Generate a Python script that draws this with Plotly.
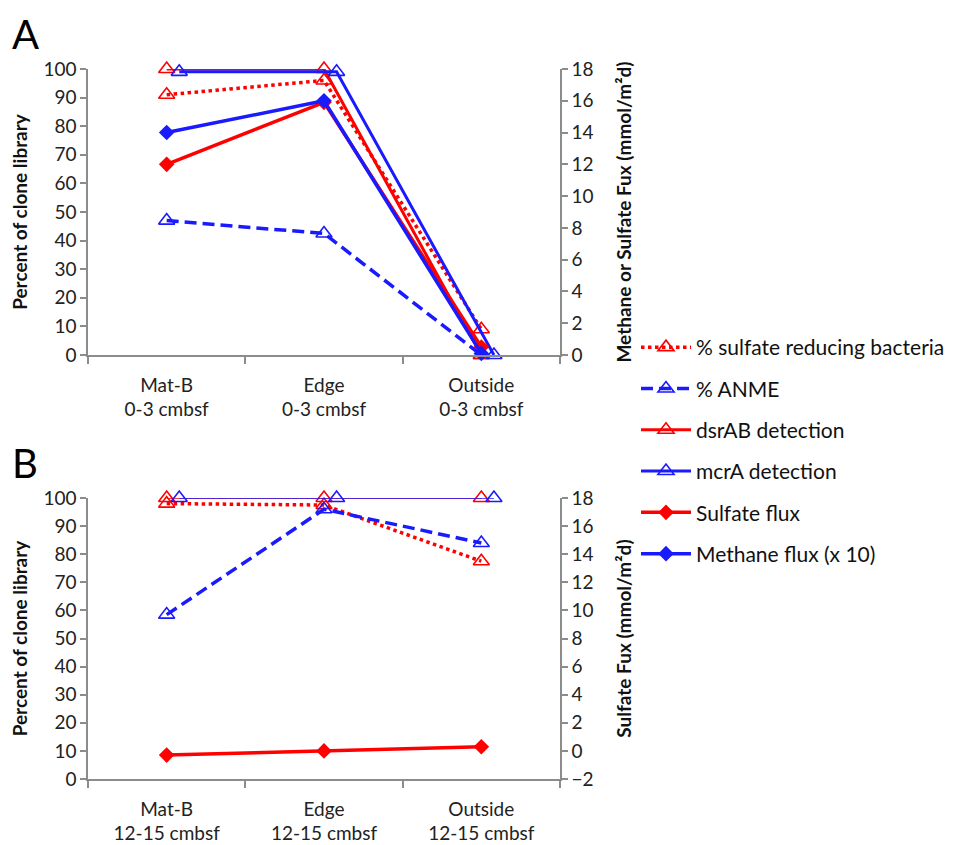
import plotly.graph_objects as go

# The page body has an 8px margin, so the figure is sized to fit the 959x845 window.
OFF = 8
W, H = 959 - OFF, 845 - OFF

sites = ["Mat-B", "Edge", "Outside"]
depth_a = "0-3 cmbsf"
depth_b = "12-15 cmbsf"

# Panel A (left axis: %, right axis: flux)
a_srb = [91, 96, 9]
a_anme = [47, 42.5, 0]
a_dsrab = [100, 100, 0]
a_mcra = [99, 99, 0]
a_sulfate_flux = [12.0, 15.9, 0.5]
a_methane_flux = [14.0, 16.0, 0.1]

# Panel B
b_srb = [98, 97.5, 77.5]
b_anme = [58.5, 96, 84]
b_dsrab = [100, 100, 100]
b_mcra = [100, 100, 100]
b_sulfate_flux = [-0.3, 0.0, 0.3]

RED = "#ff0000"
BLUE = "#1a1aff"
GRAY = "#8c8c8c"
FONT = "Lato"

xi = list(range(len(sites)))
x_off = [i + 0.08 for i in xi]

def px_x(p):
    return (p - OFF) / W

def px_y(p):
    return 1 - (p - OFF) / H

fig = go.Figure()

tri = dict(symbol="triangle-up-open", size=14, line=dict(width=1.6))
dia = dict(symbol="diamond", size=12)
DASH = "12px,6px"

def add_panel(xa, ya, yr, srb, anme, dsrab, mcra, sflux, mflux, legend, thin_detect):
    dw = 1.5 if thin_detect else 3
    fig.add_trace(go.Scatter(x=xi, y=srb, name="% sulfate reducing bacteria", mode="lines+markers",
                             line=dict(color=RED, width=3.5, dash="dot"), marker=dict(color=RED, **tri),
                             xaxis=xa, yaxis=ya, showlegend=legend, legendgroup="g1", cliponaxis=False))
    fig.add_trace(go.Scatter(x=xi, y=anme, name="% ANME", mode="lines+markers",
                             line=dict(color=BLUE, width=3.5, dash=DASH), marker=dict(color=BLUE, **tri),
                             xaxis=xa, yaxis=ya, showlegend=legend, legendgroup="g2", cliponaxis=False))
    fig.add_trace(go.Scatter(x=xi, y=dsrab, name="dsrAB detection", mode="lines+markers",
                             line=dict(color=RED, width=dw), marker=dict(color=RED, **tri),
                             xaxis=xa, yaxis=ya, showlegend=legend, legendgroup="g3", cliponaxis=False))
    fig.add_trace(go.Scatter(x=x_off, y=mcra, name="mcrA detection", mode="lines+markers",
                             line=dict(color=BLUE, width=dw), marker=dict(color=BLUE, **tri),
                             xaxis=xa, yaxis=ya, showlegend=legend, legendgroup="g4", cliponaxis=False))
    fig.add_trace(go.Scatter(x=xi, y=sflux, name="Sulfate flux", mode="lines+markers",
                             line=dict(color=RED, width=3.5), marker=dict(color=RED, **dia),
                             xaxis=xa, yaxis=yr, showlegend=legend, legendgroup="g5", cliponaxis=False))
    if mflux is not None:
        fig.add_trace(go.Scatter(x=xi, y=mflux, name="Methane flux (x 10)", mode="lines+markers",
                                 line=dict(color=BLUE, width=3.5), marker=dict(color=BLUE, **dia),
                                 xaxis=xa, yaxis=yr, showlegend=legend, legendgroup="g6", cliponaxis=False))

add_panel("x", "y", "y2", a_srb, a_anme, a_dsrab, a_mcra, a_sulfate_flux, a_methane_flux, True, False)
add_panel("x2", "y3", "y4", b_srb, b_anme, b_dsrab, b_mcra, b_sulfate_flux, None, False, True)

xdom = [px_x(88), px_x(560)]
dom_a = [px_y(355), px_y(69)]
dom_b = [px_y(779), px_y(498)]

tickfont = dict(family=FONT, size=19, color="#222222")
titlefont = dict(family=FONT, size=19, color="#111111")

def xaxis(labels, anchor):
    return dict(domain=xdom, range=[-0.5, 2.5], tickvals=xi, ticktext=labels, ticks="",
                showline=True, linecolor=GRAY, linewidth=1.5, showgrid=False, zeroline=False,
                anchor=anchor, tickfont=tickfont, ticklabelstandoff=12, automargin=False,
                minor=dict(tick0=-0.5, dtick=1, ticks="outside", ticklen=7, tickcolor=GRAY, tickwidth=1.5))

def yleft(dom, anchor):
    return dict(domain=dom, range=[0, 100], dtick=10, ticks="outside", ticklen=6, tickcolor=GRAY,
                tickwidth=1.5, showline=True, linecolor=GRAY, linewidth=1.5, showgrid=False,
                zeroline=False, anchor=anchor, tickfont=tickfont, automargin=False,
                title=dict(text="<b>Percent of clone library</b>", font=titlefont, standoff=14))

def yright(rng, overlay, anchor, title):
    return dict(range=rng, dtick=2, overlaying=overlay, side="right", anchor=anchor, ticks="outside",
                ticklen=6, tickcolor=GRAY, tickwidth=1.5, showline=True, linecolor=GRAY, linewidth=1.5,
                showgrid=False, zeroline=False, tickfont=tickfont, automargin=False,
                title=dict(text="<b>" + title + "</b>", font=titlefont, standoff=25))

fig.update_layout(
    width=W, height=H, margin=dict(l=0, r=0, t=0, b=0),
    plot_bgcolor="white", paper_bgcolor="white",
    font=dict(family=FONT),
    xaxis=xaxis([s + "<br>" + depth_a for s in sites], "y"),
    yaxis=yleft(dom_a, "x"),
    yaxis2=yright([0, 18], "y", "x", "Methane or Sulfate Fux (mmol/m²d)"),
    xaxis2=xaxis([s + "<br>" + depth_b for s in sites], "y3"),
    yaxis3=yleft(dom_b, "x2"),
    yaxis4=yright([-2, 18], "y3", "x2", "Sulfate Fux (mmol/m²d)"),
    legend=dict(x=px_x(636), y=px_y(327), xanchor="left", yanchor="top",
                font=dict(family=FONT, size=21, color="#111111"), tracegroupgap=11,
                itemwidth=50, bgcolor="rgba(0,0,0,0)"),
    showlegend=True,
)

fig.add_annotation(text="A", x=px_x(10), y=1, xref="paper", yref="paper", showarrow=False,
                   xanchor="left", yanchor="top", font=dict(family=FONT, size=40, color="black"))
fig.add_annotation(text="B", x=px_x(10), y=px_y(463), xref="paper", yref="paper", showarrow=False,
                   xanchor="left", yanchor="middle", font=dict(family=FONT, size=40, color="black"))

fig.write_html("out.html")
